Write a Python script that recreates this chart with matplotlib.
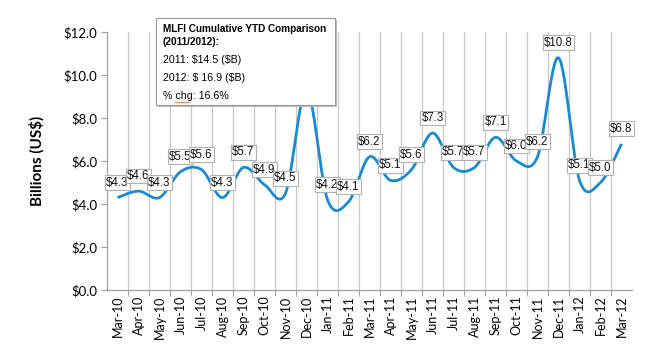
import numpy as np
import matplotlib
matplotlib.use("Agg")
import matplotlib.pyplot as plt
from matplotlib.patches import Rectangle
from matplotlib.lines import Line2D

months = ["Mar-10", "Apr-10", "May-10", "Jun-10", "Jul-10", "Aug-10", "Sep-10", "Oct-10",
          "Nov-10", "Dec-10", "Jan-11", "Feb-11", "Mar-11", "Apr-11", "May-11", "Jun-11",
          "Jul-11", "Aug-11", "Sep-11", "Oct-11", "Nov-11", "Dec-11", "Jan-12", "Feb-12", "Mar-12"]
values = [4.3, 4.6, 4.3, 5.5, 5.6, 4.3, 5.7, 4.9, 4.5, 9.3, 4.2, 4.1, 6.2, 5.1, 5.6, 7.3,
          5.7, 5.7, 7.1, 6.0, 6.2, 10.8, 5.1, 5.0, 6.8]
yticks = [0, 2, 4, 6, 8, 10, 12]
ytick_labels = ["$0.0", "$2.0", "$4.0", "$6.0", "$8.0", "$10.0", "$12.0"]
box_title = ["MLFI Cumulative YTD Comparison", "(2011/2012):"]
box_lines = ["2011: \\$14.5 (\\$B)", "2012: \\$ 16.9 (\\$B)", "% chg: 16.6%"]

W, H = 650, 351
fig = plt.figure(figsize=(W / 100, H / 100), dpi=100)
ax = fig.add_axes([107 / W, 1 - 290 / H, (632 - 107) / W, (290 - 32) / H])

x = np.arange(len(values))
y = np.array(values, dtype=float)

# Excel-like smoothing (Catmull-Rom Bezier)
def smooth(xp, yp, n=30):
    P = np.column_stack([xp, yp])
    Pm = np.vstack([P[0], P, P[-1]])
    out = []
    for i in range(len(P) - 1):
        p0, p1, p2, p3 = Pm[i], Pm[i + 1], Pm[i + 2], Pm[i + 3]
        c1 = p1 + (p2 - p0) / 6
        c2 = p2 - (p3 - p1) / 6
        t = np.linspace(0, 1, n)[:, None]
        seg = (1 - t) ** 3 * p1 + 3 * (1 - t) ** 2 * t * c1 + 3 * (1 - t) * t ** 2 * c2 + t ** 3 * p2
        out.append(seg if i == 0 else seg[1:])
    s = np.vstack(out)
    return s[:, 0], s[:, 1]

sx, sy = smooth(x, y)
ax.plot(sx, sy, color="#1a8ad0", lw=2.0, zorder=3, solid_capstyle="butt")

for i, v in enumerate(values):
    ax.annotate(f"${v:.1f}", (i, v), xytext=(0, 15), textcoords="offset pixels",
                ha="center", va="center", fontsize=8.3, family="Liberation Sans",
                color="#111111", zorder=5 + i,
                bbox=dict(boxstyle="square,pad=0.12", fc="white", ec="#b0b0b0", lw=0.8))

ax.set_xlim(-0.5, len(values) - 0.5)
ax.set_ylim(0, 12)
ax.set_xticks(x)
ax.set_xticklabels(months, rotation=90, family="Lato", fontsize=9)
ax.tick_params(axis="x", length=0, pad=4)
ax.set_xticks(np.arange(len(values) - 1) + 0.5, minor=True)
ax.tick_params(axis="x", which="minor", length=4, color="#a0a0a0", width=0.8)
ax.grid(True, axis="x", which="minor", color="#c8c8c8", lw=0.9)
ax.set_yticks(yticks)
ax.set_yticklabels(ytick_labels, family="Lato", fontsize=9.5)
ax.tick_params(axis="y", length=4, color="#a0a0a0", width=0.8, pad=3)
for side in ["top", "right"]:
    ax.spines[side].set_visible(False)
for side in ["left", "bottom"]:
    ax.spines[side].set_color("#a0a0a0")
    ax.spines[side].set_linewidth(0.9)
ax.set_ylabel("Billions (US$)", family="Lato", fontweight="bold", fontsize=11, labelpad=14)

# Annotation box
bx0, by0, bx1, by1 = 156, 18, 335, 105
shadow = Rectangle((bx0 + 2, H - by1 - 2), bx1 - bx0, by1 - by0, transform=None,
                   fc="#bbbbbb", ec="none", zorder=40)
fig.patches.append(shadow)
box = Rectangle((bx0, H - by1), bx1 - bx0, by1 - by0, transform=None,
                fc="white", ec="#999999", lw=0.8, zorder=41)
fig.patches.append(box)
for t, ty in zip(box_title, [29, 42]):
    fig.text(163 / W, 1 - ty / H, t, ha="left", va="center", fontsize=7.2,
             fontweight="bold", family="Liberation Sans", zorder=42)
for t, ty in zip(box_lines, [60, 78, 96]):
    fig.text(163 / W, 1 - ty / H, t, ha="left", va="center", fontsize=7.7,
             family="Liberation Sans", zorder=42)

# spell-check squiggle under "chg"
wx = np.linspace(175, 190, 16)
wy = 102 + 1.0 * np.where(np.arange(16) % 2 == 0, 0, 1)
fig.lines.append(Line2D(wx / W, 1 - wy / H, transform=fig.transFigure,
                        color="#e0803a", lw=0.6, zorder=43))

fig.savefig("out.png", dpi=100)
